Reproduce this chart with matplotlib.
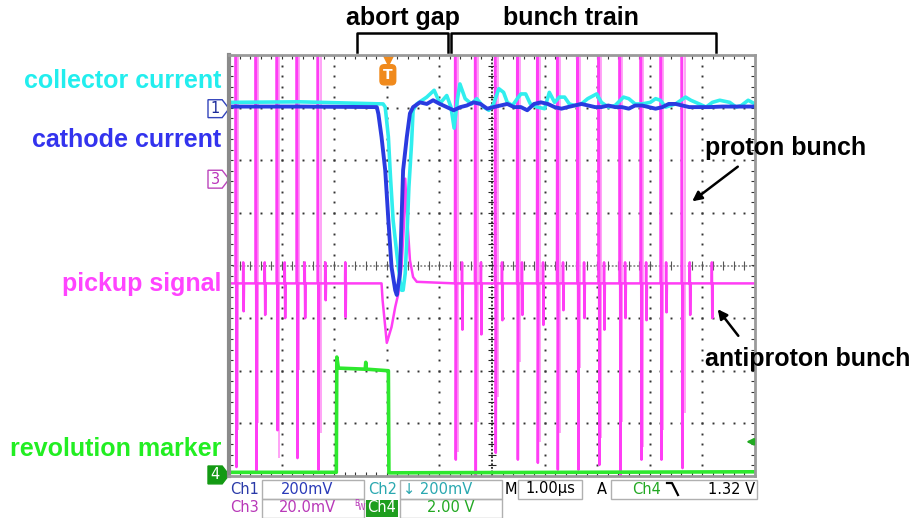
import numpy as np
import matplotlib.pyplot as plt
from matplotlib.patches import Polygon, Rectangle, FancyArrowPatch
from matplotlib.lines import Line2D
from matplotlib.transforms import blended_transform_factory

# Time axis in microseconds (1.00 us/div), traces in screen divisions
collector_t = [0.0, 1.35, 2.93, 2.97, 3.03, 3.07, 3.12, 3.19, 3.25, 3.28,
               3.31, 3.35, 3.38, 3.42, 3.47, 3.50, 3.57, 3.76, 3.90, 4.01,
               4.14, 4.22, 4.28, 4.34, 4.39, 4.49, 4.61, 4.71, 4.84, 4.94,
               5.03, 5.13, 5.22, 5.29, 5.39, 5.48, 5.55, 5.64, 5.73, 5.86,
               6.00, 6.09, 6.19, 6.28, 6.38, 6.47, 6.57, 6.70, 6.82, 6.99,
               7.08, 7.21, 7.34, 7.50, 7.60, 7.72, 7.85, 8.01, 8.11, 8.20,
               8.30, 8.49, 8.68, 8.78, 8.94, 9.07, 9.19, 9.33, 9.52, 9.64,
               9.74, 9.87, 10.0]
collector_div = [3.10, 3.11, 3.07, 3.01, 2.44, 1.68, 0.86, 0.23, -0.28, -0.47,
                 -0.47, -0.15, 0.48, 1.49, 2.31, 2.95, 3.07, 3.20, 3.33, 3.08,
                 3.23, 3.01, 2.61, 3.14, 3.45, 3.17, 3.07, 3.17, 3.01, 2.95,
                 3.07, 3.36, 3.29, 3.10, 3.04, 3.17, 3.26, 3.26, 3.07, 3.01,
                 2.98, 3.29, 3.10, 3.20, 3.20, 3.07, 3.04, 3.07, 3.17, 3.26,
                 3.10, 3.01, 3.04, 3.20, 3.17, 3.07, 3.07, 3.10, 3.17, 3.14,
                 3.01, 3.07, 3.20, 3.14, 3.07, 3.01, 3.10, 3.14, 3.10, 3.01,
                 3.04, 3.14, 3.07]

cathode_t = [0.0, 1.35, 2.81, 2.84, 2.90, 2.97, 3.03, 3.09, 3.16, 3.19,
             3.25, 3.28, 3.31, 3.38, 3.44, 3.50, 3.63, 3.76, 3.88, 4.01,
             4.14, 4.27, 4.40, 4.52, 4.65, 4.78, 4.91, 5.03, 5.16, 5.29,
             5.42, 5.55, 5.67, 5.80, 5.93, 6.06, 6.19, 6.32, 6.44, 6.57,
             6.70, 6.83, 6.96, 7.08, 7.21, 7.34, 7.47, 7.60, 7.72, 7.85,
             7.98, 8.11, 8.24, 8.36, 8.49, 8.62, 8.75, 8.88, 9.13, 9.38,
             9.64, 10.0]
cathode_div = [3.02, 3.02, 3.01, 2.88, 2.44, 1.81, 0.86, -0.03, -0.47, -0.56,
               -0.15, 0.86, 1.81, 2.44, 2.89, 3.01, 3.10, 3.07, 3.14, 3.07,
               3.01, 2.95, 3.01, 3.04, 3.10, 3.07, 2.98, 3.01, 3.04, 3.07,
               3.01, 3.01, 2.95, 3.07, 3.10, 3.07, 3.01, 2.98, 3.01, 3.04,
               3.07, 3.04, 3.01, 3.01, 3.04, 3.01, 3.01, 2.98, 3.04, 3.04,
               3.01, 2.98, 3.01, 3.07, 3.07, 3.04, 3.01, 3.01, 3.01, 3.02,
               3.02, 3.02]

marker_t = [0.0, 2.04, 2.05, 2.08, 2.59, 2.60, 2.61, 3.03, 3.04, 10.0]
marker_div = [-3.93, -3.93, -1.74, -1.95, -1.97, -1.84, -1.97, -2.00, -3.94, -3.92]

# pickup: baseline, abort gap response, proton / antiproton bunch spikes
pickup_base = -0.34
clip_level = 4.3
gap_t = [2.90, 2.92, 2.97, 3.00, 3.09, 3.16, 3.22, 3.28, 3.33, 3.35, 3.39, 3.44, 3.50, 3.57]
gap_div = [-0.34, -0.66, -1.17, -1.47, -1.17, -0.79, -0.53, -0.03, 0.86, 1.65, 0.86, 0.10, -0.22, -0.31]

proton_t = [0.13, 0.51, 0.91, 1.29, 1.69, 4.30, 4.68, 5.06, 5.48, 5.86,
            6.24, 6.63, 7.03, 7.43, 7.83, 8.21, 8.61]
proton_min = [-3.83, -3.92, -3.13, -3.66, -3.88, -3.69, -4.0, -3.56, -3.69, -3.75,
              -3.88, -3.88, -3.79, -4.0, -3.69, -3.69, -3.85]
proton_min_prev = [-3.12, -2.99, -3.66, -1.98, -3.18, -3.54, -2.97, -2.50, -1.83, -3.36,
                   -3.18, -1.95, -3.28, -2.97, -3.45, -3.12, -2.80]

antiproton_t = [0.27, 0.68, 1.06, 1.44, 1.83, 2.21, 4.43, 4.79, 5.19, 5.57,
                5.97, 6.35, 6.75, 7.13, 7.53, 7.93, 8.31, 8.76, 9.18]
antiproton_min = [-0.87, -0.94, -1.00, -1.00, -0.66, -0.98, -1.22, -1.31, -1.04, -0.94,
                  -1.13, -0.85, -1.00, -1.22, -1.00, -1.04, -0.89, -0.94, -1.00]
antiproton_peak = 0.06

trigger_t = 3.02
trigger_level_div = -3.35
ch1_ref, ch3_ref, ch4_ref = 2.98, 1.64, -3.98

W, H = 913, 518
fig = plt.figure(figsize=(W / 100, H / 100), dpi=100)
ax = fig.add_axes([229 / W, 1 - 476 / H, 526 / W, 421 / H])
ax.set_xlim(0, 10)
ax.set_ylim(-4, 4)
ax.set_xticks([])
ax.set_yticks([])
for s in ax.spines.values():
    s.set_color('#9a9a9a')
    s.set_linewidth(2)
ax.spines['left'].set_linewidth(3)
ax.spines['left'].set_color('#8a8a8a')

# graticule
fine_x = np.arange(0, 10.001, 0.2)
fine_y = np.arange(-4, 4.001, 0.2)
for gx in range(1, 10):
    if gx != 5:
        ax.plot(np.full_like(fine_y, gx), fine_y, ls='none', marker='s', ms=1.4, mew=0, color='#333333')
for gy in range(-3, 4):
    if gy != 0:
        ax.plot(fine_x, np.full_like(fine_x, gy), ls='none', marker='s', ms=1.4, mew=0, color='#333333')
ax.axhline(0, color='#8a8a8a', lw=1.3, ls=(0, (1, 1)))
ax.axvline(5, color='#222222', lw=1.3, ls=(0, (1, 1)))
tk = 0.08
ax.vlines(fine_x, -tk, tk, color='#555555', lw=0.8)
ax.hlines(fine_y, 5 - tk, 5 + tk, color='#222222', lw=0.8)
ax.vlines(fine_x, -4, -4 + tk, color='#333333', lw=0.8)
ax.vlines(fine_x, 4 - tk, 4, color='#333333', lw=0.8)
ax.hlines(fine_y, 0, tk, color='#333333', lw=0.8)
ax.hlines(fine_y, 10 - tk, 10, color='#333333', lw=0.8)

# pickup trace
segments = []
for t, lo in zip(proton_t, proton_min):
    segments.append([(t - 0.005, pickup_base), (t, clip_level), (t + 0.012, lo), (t + 0.022, pickup_base)])
for t, lo in zip(antiproton_t, antiproton_min):
    segments.append([(t - 0.004, pickup_base), (t, antiproton_peak), (t + 0.008, lo), (t + 0.016, pickup_base)])
segments.append(list(zip(gap_t, gap_div)))
segments.sort(key=lambda s: s[0][0])
pts = [(0.0, pickup_base)]
for s in segments:
    pts.extend(s)
pts.append((10.0, pickup_base))
pickup = np.array(pts)

ax.vlines(np.array(proton_t) + 0.05, proton_min_prev, clip_level, color='#ff9cf6', lw=1.3)
ax.plot(pickup[:, 0], pickup[:, 1], color='#ff3df5', lw=1.8)
ax.plot(marker_t, marker_div, color='#2ee82e', lw=2.6)
ax.plot(collector_t, collector_div, color='#30eeee', lw=2.6)
ax.plot(cathode_t, cathode_div, color='#2a3be0', lw=2.8)

# trigger position and level
edge_top = blended_transform_factory(ax.transData, ax.transAxes)
ax.plot([trigger_t], [0.988], marker='v', ms=7, color='#f08a1c', transform=edge_top, clip_on=False)
ax.text(trigger_t, 0.953, 'T', transform=edge_top, ha='center', va='center', color='white',
        fontsize=10, fontweight='bold',
        bbox=dict(boxstyle='round,pad=0.22,rounding_size=0.3', fc='#f08a1c', ec='#f08a1c'))
ax.annotate('', xy=(9.78, trigger_level_div), xytext=(10.0, trigger_level_div),
            arrowprops=dict(arrowstyle='-|>', color='#22aa22', lw=1.5, mutation_scale=10))

# channel reference tags
edge_left = blended_transform_factory(ax.transAxes, ax.transData)
def channel_tag(y, label, edge, face, txt):
    w = 21 / 526
    h = 0.17
    verts = [(-w, y - h), (-0.013, y - h), (0, y), (-0.013, y + h), (-w, y + h)]
    ax.add_patch(Polygon(verts, closed=True, transform=edge_left, facecolor=face,
                         edgecolor=edge, lw=1, clip_on=False))
    ax.text(-w / 2 - 0.006, y, label, transform=edge_left, ha='center', va='center',
            color=txt, fontsize=10.5, clip_on=False)

channel_tag(ch1_ref, '1', '#3344bb', 'white', '#1a2a99')
channel_tag(ch3_ref, '3', '#bb44bb', 'white', '#bb33bb')
channel_tag(ch4_ref, '4', '#139a13', '#139a13', 'white')

def fx(x):
    return x / W

def fy(y):
    return 1 - y / H

# trace names
label_font = dict(family=['Liberation Sans', 'DejaVu Sans'], fontweight='bold', fontsize=18)
fig.text(fx(221), fy(88), 'collector current', color='#22eeee', ha='right', va='baseline', **label_font)
fig.text(fx(221), fy(147), 'cathode current', color='#3333ee', ha='right', va='baseline', **label_font)
fig.text(fx(221), fy(291), 'pickup signal', color='#ff44ff', ha='right', va='baseline', **label_font)
fig.text(fx(221), fy(456), 'revolution marker', color='#22ee22', ha='right', va='baseline', **label_font)
fig.text(fx(705), fy(155), 'proton bunch', color='black', ha='left', va='baseline', **label_font)
fig.text(fx(705), fy(366), 'antiproton bunch', color='black', ha='left', va='baseline', **label_font)
fig.text(fx(346), fy(25), 'abort gap', color='black', ha='left', va='baseline', **label_font)
fig.text(fx(503), fy(25), 'bunch train', color='black', ha='left', va='baseline', **label_font)

for xs, ys in [([357, 357, 448, 448], [52, 33, 33, 52]), ([451, 451, 716, 716], [52, 33, 33, 52])]:
    fig.add_artist(Line2D([fx(v) for v in xs], [fy(v) for v in ys], color='black', lw=1.8))

for (x0, y0), (x1, y1) in [((740, 165), (690, 203)), ((740, 338), (716, 307))]:
    fig.add_artist(FancyArrowPatch((fx(x0), fy(y0)), (fx(x1), fy(y1)), transform=fig.transFigure,
                                   arrowstyle='-|>', mutation_scale=14, lw=1.8, color='black'))

# readout panel
for x0, y0, x1, y1 in [(262, 480, 364, 499), (400, 480, 502, 499), (518, 480, 582, 499),
                       (611, 480, 757, 499), (262, 499, 364, 518), (400, 499, 502, 518)]:
    fig.add_artist(Rectangle((fx(x0), fy(y1)), (x1 - x0) / W, (y1 - y0) / H, transform=fig.transFigure,
                             fc='none', ec='#b0b0b0', lw=1))
fig.add_artist(Rectangle((fx(366), fy(517)), 32 / W, 17 / H, transform=fig.transFigure,
                         fc='#1e9e1e', ec='none'))

pf = dict(fontsize=10.5, va='center', family='DejaVu Sans')
r1, r2 = fy(489), fy(508)
fig.text(fx(230), r1, 'Ch1', color='#2a3aa8', ha='left', **pf)
fig.text(fx(307), r1, '200mV', color='#2a3ab8', ha='center', **pf)
fig.text(fx(368), r1, 'Ch2', color='#2aa8b0', ha='left', **pf)
fig.text(fx(403), r1, '\u2193 200mV', color='#2aa8b0', ha='left', **pf)
fig.text(fx(505), r1, 'M', color='black', ha='left', **pf)
fig.text(fx(550), r1, '1.00\u00b5s', color='black', ha='center', **pf)
fig.text(fx(597), r1, 'A', color='black', ha='left', **pf)
fig.text(fx(632), r1, 'Ch4', color='#22a822', ha='left', **pf)
fig.add_artist(Line2D([fx(667), fx(672), fx(678)], [fy(483), fy(483), fy(495)], color='black', lw=1.6))
fig.text(fx(755), r1, '1.32 V', color='black', ha='right', **pf)
fig.text(fx(230), r2, 'Ch3', color='#b838b8', ha='left', **pf)
fig.text(fx(307), r2, '20.0mV', color='#b838b8', ha='center', **pf)
fig.text(fx(354), fy(503), 'B', color='#b838b8', ha='left', va='center', fontsize=5.5)
fig.text(fx(358), fy(508), 'W', color='#b838b8', ha='left', va='center', fontsize=5.5)
fig.text(fx(382), r2, 'Ch4', color='white', ha='center', **pf)
fig.text(fx(451), r2, '2.00 V', color='#22a822', ha='center', **pf)

fig.savefig('out.png', dpi=100)
